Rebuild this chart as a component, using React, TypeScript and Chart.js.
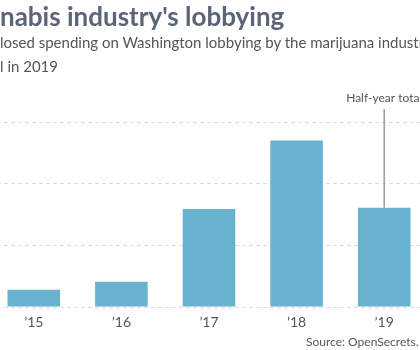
import React, { useEffect, useRef } from "react";
import { Chart, registerables } from "chart.js";

Chart.register(...registerables);

const categories = ["\u201915", "\u201916", "\u201917", "\u201918", "\u201919"];
const spending = [0.28, 0.41, 1.59, 2.7, 1.61];
const yTicks = [0, 1, 2, 3];
const titleText = "nabis industry's lobbying";
const subtitleLines = [
  "losed spending on Washington lobbying by the marijuana industry",
  "l in 2019",
];
const annotationText = "Half-year total";
const annotationIndex = 4;
const annotationTopValue = 3.21;
const sourceText = "Source: OpenSecrets.";

const annotatePlugin = {
  id: "annotate",
  afterDatasetsDraw(chart: any) {
    const { ctx, scales } = chart;
    const x = scales.x;
    const y = scales.y;
    const px = x.getPixelForValue(annotationIndex);
    const barTop = y.getPixelForValue(spending[annotationIndex]);
    const lineTop = y.getPixelForValue(annotationTopValue);
    ctx.save();
    ctx.strokeStyle = "#9a9a9a";
    ctx.lineWidth = 1.5;
    ctx.beginPath();
    ctx.moveTo(px, lineTop);
    ctx.lineTo(px, barTop);
    ctx.stroke();
    ctx.fillStyle = "#555";
    ctx.font = "12px Lato";
    ctx.textAlign = "center";
    ctx.textBaseline = "alphabetic";
    ctx.fillText(annotationText, px, lineTop - 7);
    ctx.restore();
  },
};

export default function App() {
  const canvasRef = useRef<HTMLCanvasElement | null>(null);

  useEffect(() => {
    const canvas = canvasRef.current;
    if (!canvas) return;
    const chart = new Chart(canvas, {
      type: "bar",
      data: {
        labels: categories,
        datasets: [
          {
            data: spending,
            backgroundColor: "#68b2d0",
            borderWidth: 0,
            barPercentage: 0.6,
            categoryPercentage: 1,
          },
        ],
      },
      options: {
        responsive: false,
        animation: false,
        devicePixelRatio: 1,
        layout: { padding: { left: 40, right: 42, top: 122, bottom: 0 } },
        plugins: {
          legend: { display: false },
          title: { display: false },
          tooltip: { enabled: false },
        },
        scales: {
          x: {
            grid: { display: false, drawTicks: false },
            border: { display: false },
            ticks: {
              color: "#555",
              font: { family: "Lato", size: 14 },
              padding: 7,
            },
            afterFit(scale: any) {
              scale.height = 43;
            },
          },
          y: {
            min: 0,
            max: 3,
            afterBuildTicks(scale: any) {
              scale.ticks = yTicks.map((v) => ({ value: v }));
            },
            grid: { color: "#dcdcdc", drawTicks: false, lineWidth: 1 },
            border: { display: false, dash: [4, 3] },
            ticks: { display: false },
            afterFit(scale: any) {
              scale.width = 0;
            },
          },
        },
      },
      plugins: [annotatePlugin],
    });
    return () => chart.destroy();
  }, []);

  return (
    <div
      style={{
        position: "fixed",
        left: 0,
        top: 0,
        width: 420,
        height: 350,
        overflow: "hidden",
        background: "#fff",
        fontFamily: "Lato",
      }}
    >
      <canvas
        ref={canvasRef}
        width={520}
        height={350}
        style={{ position: "absolute", left: -50, top: 0 }}
      />
      <div
        style={{
          position: "absolute",
          left: 0,
          top: 3,
          fontSize: 26,
          lineHeight: "26px",
          fontWeight: 700,
          color: "#5b6577",
          whiteSpace: "nowrap",
        }}
      >
        {titleText}
      </div>
      <div
        style={{
          position: "absolute",
          left: 0,
          top: 30,
          fontSize: 15,
          lineHeight: "24px",
          color: "#555",
          whiteSpace: "nowrap",
        }}
      >
        {subtitleLines.map((l, i) => (
          <div key={i}>{l}</div>
        ))}
      </div>
      <div
        style={{
          position: "absolute",
          left: 306,
          top: 335,
          fontSize: 12,
          lineHeight: "14px",
          color: "#555",
          whiteSpace: "nowrap",
        }}
      >
        {sourceText}
      </div>
    </div>
  );
}
